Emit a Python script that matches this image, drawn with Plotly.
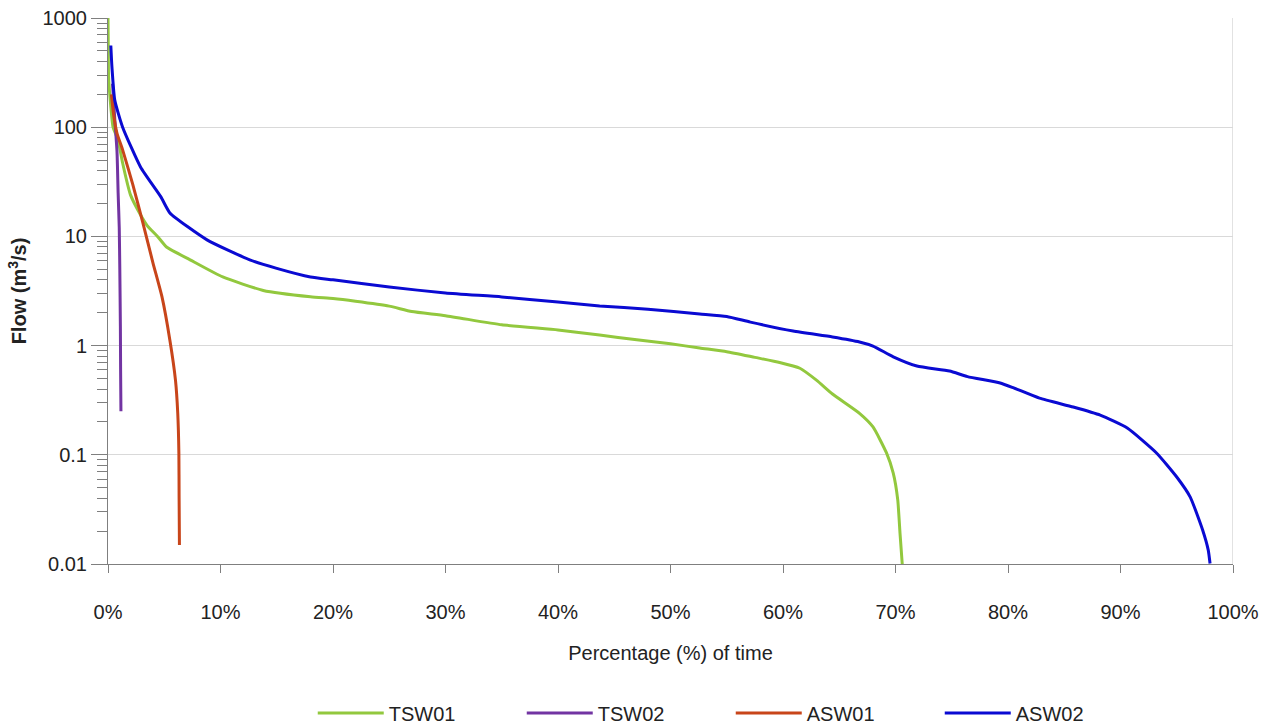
import plotly.graph_objects as go

# Flow duration curves: percentage of time flow is equalled or exceeded
tsw01_pct = [0, 0.02, 0.05, 0.2, 0.45, 0.9, 1.3, 2.0, 2.8, 3.5, 4.4, 5.2, 7.3, 10.2,
             13.8, 18, 20, 22, 25, 27, 30, 35, 40, 43.7, 47, 50, 52.6, 55, 57.5, 59.7,
             61.5, 63, 64.4, 66.8, 68.0, 69.2, 69.8, 70.2, 70.4, 70.6]
tsw01_flow = [1000, 600, 290, 177, 100, 76, 47, 24, 16.4, 12.5, 10, 8.0, 6.1, 4.25,
              3.2, 2.8, 2.7, 2.55, 2.3, 2.05, 1.88, 1.55, 1.39, 1.25, 1.13, 1.04, 0.95,
              0.88, 0.78, 0.70, 0.62, 0.48, 0.36, 0.24, 0.18, 0.104, 0.068, 0.0386,
              0.0192, 0.0100]

tsw02_pct = [0.4, 0.6, 0.8, 0.9, 1.0, 1.05, 1.1, 1.12, 1.15]
tsw02_flow = [250, 120, 60, 25, 12, 5, 1.5, 0.6, 0.25]

asw01_pct = [0.3, 0.5, 0.8, 1.3, 2.2, 3.1, 4.0, 4.8, 5.5, 6.0, 6.2, 6.3, 6.32, 6.35]
asw01_flow = [200, 130, 88, 62, 30, 13.3, 5.7, 2.79, 1.12, 0.48, 0.24, 0.104, 0.041, 0.0149]

asw02_pct = [0.25, 0.35, 0.6, 1.3, 2.9, 4.7, 5.5, 8.8, 12.6, 15, 18, 20, 25, 30, 35, 40,
             43.7, 48, 52.6, 55, 57.1, 60.9, 64.4, 66.8, 68, 69.8, 71.9, 74.8, 76.4,
             79.3, 80.5, 82.8, 85.8, 88.2, 90.6, 93.2, 95, 96.2, 97.3, 97.8, 97.96]
asw02_flow = [560, 355, 177, 100, 43, 23, 16.4, 9.3, 6.1, 5.1, 4.25, 4.0, 3.44, 3.03,
              2.79, 2.51, 2.31, 2.15, 1.95, 1.85, 1.64, 1.36, 1.2, 1.08, 0.99, 0.79,
              0.65, 0.585, 0.52, 0.455, 0.41, 0.33, 0.274, 0.231, 0.176, 0.104, 0.0626,
              0.041, 0.0205, 0.0134, 0.0101]

x_ticks = list(range(0, 101, 10))
x_labels = [f"{v}%" for v in x_ticks]
y_ticks = [0.01, 0.1, 1, 10, 100, 1000]
y_labels = ["0.01", "0.1", "1", "10", "100", "1000"]
y_minor = [m * d for d in [0.01, 0.1, 1, 10, 100] for m in range(2, 10)]

series = [
    ("TSW01", tsw01_pct, tsw01_flow, "#92C83E"),
    ("TSW02", tsw02_pct, tsw02_flow, "#7234A2"),
    ("ASW01", asw01_pct, asw01_flow, "#C8451A"),
    ("ASW02", asw02_pct, asw02_flow, "#0A0AD2"),
]

fig = go.Figure()
for name, xs, ys, color in series:
    fig.add_trace(go.Scatter(x=xs, y=ys, name=name, mode="lines",
                             line=dict(color=color, width=3, shape="spline",
                                       smoothing=0.5)))

font = "Liberation Sans, Arial, sans-serif"
fig.update_layout(
    width=1270, height=726,
    margin=dict(l=108, r=37, t=18, b=162, autoexpand=False),
    paper_bgcolor="white", plot_bgcolor="white",
    font=dict(family=font, size=20, color="#222222"),
    showlegend=True,
    legend=dict(orientation="h", x=0.182, xanchor="left", y=-0.273, yanchor="middle",
                font=dict(size=20, color="#222222"),
                itemwidth=66, entrywidth=128),
    xaxis=dict(
        range=[0, 100], tickvals=x_ticks, ticktext=x_labels,
        showgrid=False, zeroline=False,
        showline=True, linecolor="#7F7F7F", linewidth=1,
        ticks="outside", ticklen=8, tickcolor="#7F7F7F",
        ticklabelstandoff=22,
        title=dict(text="Percentage (%) of time", standoff=23,
                   font=dict(size=20, color="#222222")),
    ),
    yaxis=dict(
        type="log", range=[-2, 3],
        tickvals=y_ticks, ticktext=y_labels,
        showgrid=True, gridcolor="#D9D9D9", gridwidth=1, zeroline=False,
        showline=True, linecolor="#7F7F7F", linewidth=1,
        ticks="outside", ticklen=16, tickcolor="#7F7F7F",
        minor=dict(tickvals=y_minor, ticks="outside", ticklen=10,
                   tickcolor="#7F7F7F", showgrid=False),
        title=dict(text="<b>Flow (m<sup>3</sup>/s)</b>", standoff=10,
                   font=dict(size=20, color="#222222")),
    ),
    shapes=[dict(type="line", xref="x", yref="paper", x0=100, x1=100, y0=0, y1=1,
                 line=dict(color="#D9D9D9", width=1.5))],
)

fig.write_html("out.html")
